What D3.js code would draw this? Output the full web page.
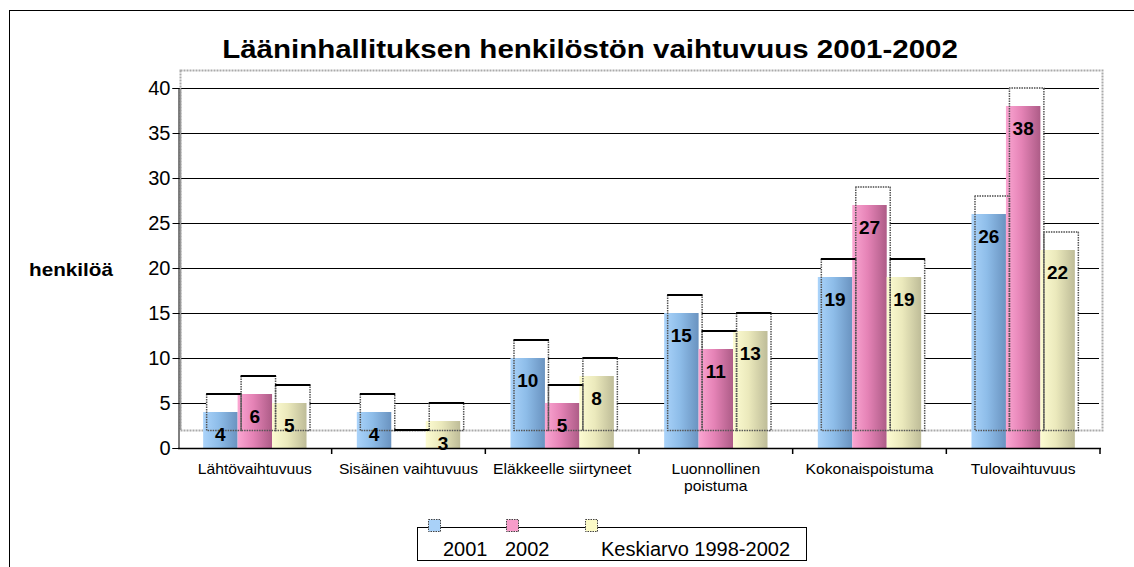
<!DOCTYPE html>
<html>
<head>
<meta charset="utf-8">
<script src="https://cdn.jsdelivr.net/npm/d3@7"></script>
<style>
  body { margin: 0; background: #fff; }
  svg { font-family: "Liberation Sans", Arial, sans-serif; }
</style>
</head>
<body>
<div id="chart"></div>
<script>
var categories = ["Lähtövaihtuvuus", "Sisäinen vaihtuvuus", "Eläkkeelle siirtyneet", "Luonnollinen poistuma", "Kokonaispoistuma", "Tulovaihtuvuus"];
var series_names = ["2001", "2002", "Keskiarvo 1998-2002"];
var values_2001 = [4, 4, 10, 15, 19, 26];
var values_2002 = [6, 0, 5, 11, 27, 38];
var values_avg = [5, 3, 8, 13, 19, 22];
var y_ticks = [0, 5, 10, 15, 20, 25, 30, 35, 40];

var w = 1134;
var h = 567;
var depth = 2;      // the back face sits 2 units higher
var shift = 3;      // and 3 px to the right

var dataset = [];
for (var i = 0; i < categories.length; i++) {
    dataset.push({ category: categories[i], values: [values_2001[i], values_2002[i], values_avg[i]] });
}

var colors = [
    ["#aad3fa", "#8ebde9", "#6a93c0"],
    ["#fba6d2", "#e583b6", "#ad5c87"],
    ["#fdfcd2", "#ebe9bc", "#bebc98"]
];
var swatch = ["#a9d1f8", "#f79cca", "#fbfac6"];

var svg = d3.select("#chart").append("svg").attr("width", w).attr("height", h);

// text that is a little wider than the font, as in the original picture
function stretchedText(parent, x, y, sx, str) {
    return parent.append("text")
        .attr("transform", "translate(" + x + "," + y + ") scale(" + sx + ",1)")
        .text(str);
}

// gradients for the bars
var defs = svg.append("defs");
colors.forEach(function (c, i) {
    var g = defs.append("linearGradient").attr("id", "grad" + i)
        .attr("x1", "0%").attr("x2", "100%").attr("y1", "0%").attr("y2", "0%");
    g.append("stop").attr("offset", "0%").attr("stop-color", c[0]);
    g.append("stop").attr("offset", "45%").attr("stop-color", c[1]);
    g.append("stop").attr("offset", "100%").attr("stop-color", c[2]);
});

// outer frame
svg.append("rect").attr("x", 9.5).attr("y", 10.5).attr("width", w).attr("height", h)
    .attr("fill", "none").attr("stroke", "#000").attr("stroke-width", 1);

var xScale = d3.scaleBand().domain(categories).range([178, 1100]);
var inner = d3.scaleBand().domain(d3.range(3)).range([0, xScale.bandwidth()]).paddingOuter(0.73);
var yScale = d3.scaleLinear().domain([0, 40]).range([448, 88]);

// title
stretchedText(svg, 590, 58, 1.18, "Lääninhallituksen henkilöstön vaihtuvuus 2001-2002")
    .attr("text-anchor", "middle").attr("font-size", "25px").attr("font-weight", "bold");

// back wall (dotted)
svg.append("rect")
    .attr("x", 180.5).attr("y", yScale(40 + depth) + 0.5)
    .attr("width", 1102 - 180).attr("height", yScale(depth) - yScale(40 + depth))
    .attr("fill", "none").attr("stroke", "#aaa").attr("stroke-width", 2).attr("stroke-dasharray", "2,1");

// gridlines
svg.append("g").selectAll("line").data(y_ticks.slice(1)).enter().append("line")
    .attr("x1", 178).attr("x2", 1099)
    .attr("y1", function (d) { return yScale(d) + 0.5; })
    .attr("y2", function (d) { return yScale(d) + 0.5; })
    .attr("stroke", "#000").attr("stroke-width", 1);

var groups = svg.selectAll("g.group").data(dataset).enter().append("g")
    .attr("class", "group")
    .attr("transform", function (d) { return "translate(" + xScale(d.category) + ",0)"; });

function boxData(d) {
    return d.values.map(function (v, i) { return { v: v, i: i }; });
}

// back faces, white inside
groups.selectAll("rect.back").data(boxData).enter().append("rect")
    .attr("class", "back")
    .attr("x", function (d) { return inner(d.i) + shift; })
    .attr("y", function (d) { return yScale(d.v + depth); })
    .attr("width", inner.bandwidth())
    .attr("height", function (d) { return yScale(depth) - yScale(d.v + depth); })
    .attr("fill", "#fff");

// bars
groups.selectAll("rect.bar").data(boxData).enter().append("rect")
    .attr("class", "bar")
    .attr("x", function (d) { return inner(d.i); })
    .attr("y", function (d) { return yScale(d.v); })
    .attr("width", inner.bandwidth())
    .attr("height", function (d) { return yScale(0) - yScale(d.v); })
    .attr("fill", function (d) { return "url(#grad" + d.i + ")"; });

// back face outlines drawn over the bars
var outl = groups.selectAll("g.outl").data(boxData).enter().append("g").attr("class", "outl");
outl.append("path")
    .attr("d", function (d) {
        var x0 = inner(d.i) + shift + 0.5, x1 = x0 + inner.bandwidth();
        var y0 = yScale(d.v + depth), y1 = yScale(depth) + 0.5;
        return "M" + x0 + "," + y0 + "V" + y1 + "H" + x1 + "V" + y0;
    })
    .attr("fill", "none").attr("stroke", "#555").attr("stroke-width", 1.5).attr("stroke-dasharray", "1.5,1");
outl.append("line")
    .attr("x1", function (d) { return inner(d.i) + shift; })
    .attr("x2", function (d) { return inner(d.i) + shift + inner.bandwidth() + 1; })
    .attr("y1", function (d) { return yScale(d.v + depth); })
    .attr("y2", function (d) { return yScale(d.v + depth); })
    .attr("stroke", function (d) { return d.v + depth > 22 ? "#777" : "#000"; })
    .attr("stroke-width", 2)
    .attr("stroke-dasharray", function (d) { return d.v + depth > 22 ? "1.5,1" : null; });

// value labels
groups.selectAll("text.val").data(function (d) { return boxData(d).filter(function (b) { return b.v > 0; }); })
    .enter().append("text")
    .attr("class", "val")
    .attr("x", function (d) { return inner(d.i) + inner.bandwidth() / 2; })
    .attr("y", function (d) { return yScale(d.v) + 29; })
    .attr("text-anchor", "middle").attr("font-size", "19px").attr("font-weight", "bold")
    .text(function (d) { return d.v; });

// y axis
var yAxis = d3.axisLeft(yScale).tickValues(y_ticks).tickSize(6).tickPadding(2);
var gy = svg.append("g").attr("transform", "translate(178.5,0)").call(yAxis);
gy.select(".domain").attr("stroke", "#000");
gy.selectAll("text").attr("font-size", "20px").attr("font-family", "Liberation Sans, Arial, sans-serif").attr("fill", "#000");
svg.append("line").attr("x1", 180.5).attr("x2", 180.5).attr("y1", yScale(40)).attr("y2", yScale(depth))
    .attr("stroke", "#999").attr("stroke-width", 1.5);

// x axis
svg.append("line").attr("x1", 178).attr("x2", 1101).attr("y1", yScale(0) + 0.5).attr("y2", yScale(0) + 0.5)
    .attr("stroke", "#000").attr("stroke-width", 1.5);
svg.append("g").selectAll("line").data(categories).enter().append("line")
    .attr("x1", function (d) { return xScale(d) + xScale.bandwidth(); })
    .attr("x2", function (d) { return xScale(d) + xScale.bandwidth(); })
    .attr("y1", yScale(0)).attr("y2", yScale(0) + 6)
    .attr("stroke", "#000").attr("stroke-width", 1.5);

var wrapped = { "Luonnollinen poistuma": ["Luonnollinen", "poistuma"] };
var xlabels = svg.append("g");
categories.forEach(function (d) {
    var lines = wrapped[d] || [d];
    lines.forEach(function (l, k) {
        stretchedText(xlabels, xScale(d) + xScale.bandwidth() / 2, 474 + k * 17, 1.08, l)
            .attr("text-anchor", "middle").attr("font-size", "14.5px");
    });
});

// axis title
stretchedText(svg, 71, 276, 1.15, "henkilöä")
    .attr("text-anchor", "middle").attr("font-size", "18px").attr("font-weight", "bold");

// legend
var legend = svg.append("g");
legend.append("rect").attr("x", 417.5).attr("y", 527.5).attr("width", 389).attr("height", 33)
    .attr("fill", "#fff").attr("stroke", "#000");
var legX = [443, 505, 601];
var swX = [428, 506, 585];
legend.selectAll("rect.sw").data(series_names).enter().append("rect")
    .attr("class", "sw")
    .attr("x", function (d, i) { return swX[i] + 0.5; })
    .attr("y", 519.5).attr("width", 12).attr("height", 12)
    .attr("fill", function (d, i) { return swatch[i]; })
    .attr("stroke", "#444").attr("stroke-dasharray", "1.5,1");
legend.selectAll("text").data(series_names).enter().append("text")
    .attr("x", function (d, i) { return legX[i]; })
    .attr("y", 556).attr("font-size", "20px")
    .text(function (d) { return d; });
</script>
</body>
</html>
